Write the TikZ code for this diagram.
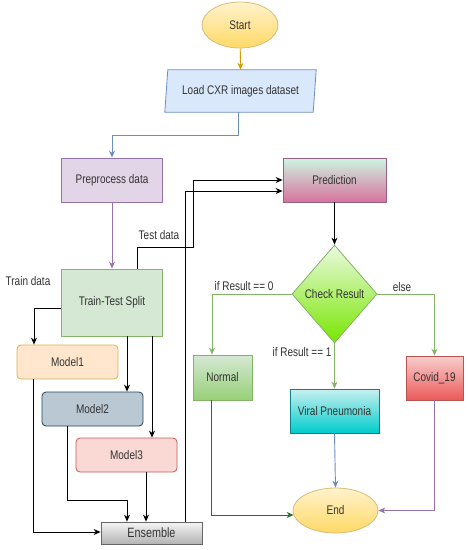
\documentclass[tikz,border=0pt]{standalone}
\usepackage{fontspec}
\setmainfont[FakeStretch=0.8]{Liberation Sans}
\usetikzlibrary{shapes.geometric,arrows.meta,shadings,calc}
\definecolor{txt}{HTML}{333333}
\begin{document}
\begin{tikzpicture}[x=1pt,y=-1pt,
  every node/.style={font=\fontsize{12.5}{14}\selectfont, text=txt, inner sep=1pt},
  box/.style={draw, rectangle, line width=0.8pt, minimum width=101pt},
  rbox/.style={box, rounded corners=4pt, minimum height=34pt},
  conn/.style={line width=0.9pt, -{Stealth[length=7pt,width=6pt]}},
  lbl/.style={inner sep=0pt}
]
\useasboundingbox (0,0) rectangle (467,550);
% nodes
\node[draw=yellow!50!orange!70!black!60, ellipse, line width=0.8pt, top color={rgb,255:red,255;green,242;blue,204}, bottom color={rgb,255:red,255;green,217;blue,102}, minimum width=76pt, minimum height=46pt] (start) at (240,25) {Start};

\node[minimum width=100pt, minimum height=42pt, inner sep=0pt] (load) at (240.5,91) {};
\filldraw[fill={rgb,255:red,218;green,232;blue,252}, draw={rgb,255:red,108;green,142;blue,191}, line width=0.8pt]
  ([xshift=-22.5pt]load.north west) -- ([xshift=25.5pt]load.north east) -- ([xshift=22.5pt]load.south east) -- ([xshift=-25.5pt]load.south west) -- cycle;
\node at (load) {Load CXR images dataset};

\node[box, minimum height=44pt, fill={rgb,255:red,225;green,213;blue,231}, draw={rgb,255:red,150;green,115;blue,166}] (pre) at (112,180) {Preprocess data};
\node[box, minimum height=67pt, fill={rgb,255:red,213;green,232;blue,212}, draw={rgb,255:red,130;green,179;blue,102}] (tts) at (112,302.5) {Train-Test Split};

\node[rbox, fill={rgb,255:red,255;green,230;blue,204}, draw={rgb,255:red,215;green,180;blue,80}] (m1) at (67.5,362) {Model1};
\node[rbox, fill={rgb,255:red,186;green,200;blue,211}, draw={rgb,255:red,35;green,68;blue,93}] (m2) at (92.5,409) {Model2};
\node[rbox, fill={rgb,255:red,250;green,217;blue,213}, draw={rgb,255:red,200;green,90;blue,80}] (m3) at (126.5,455) {Model3};
\node[box, minimum height=22pt, top color={rgb,255:red,245;green,245;blue,245}, bottom color={rgb,255:red,179;green,179;blue,179}, draw={rgb,255:red,102;green,102;blue,102}, font=\fontsize{13.5}{15}\selectfont] (ens) at (151.5,533) {Ensemble};

\node[box, minimum width=103pt, minimum height=44pt, top color={rgb,255:red,204;green,245;blue,225}, bottom color={rgb,255:red,215;green,115;blue,157}, draw={rgb,255:red,150;green,97;blue,133}] (pred) at (334.5,180) {Prediction};

\node[diamond, aspect=0.867, minimum width=85pt, minimum height=98pt, inner sep=0pt, line width=0.8pt, top color={rgb,255:red,235;green,250;blue,225}, bottom color={rgb,255:red,120;green,230;blue,0}, draw={rgb,255:red,130;green,179;blue,102}] (chk) at (334.5,294) {Check Result};

\node[box, minimum width=59pt, minimum height=45pt, top color={rgb,255:red,213;green,232;blue,212}, bottom color={rgb,255:red,151;green,208;blue,119}, draw={rgb,255:red,130;green,179;blue,102}] (normal) at (222.5,377.5) {Normal};
\node[box, minimum width=89pt, minimum height=44pt, top color={rgb,255:red,200;green,240;blue,240}, bottom color={rgb,255:red,0;green,204;blue,204}, draw={rgb,255:red,14;green,128;blue,136}] (viral) at (334.5,411) {Viral Pneumonia};
\node[box, minimum width=57pt, minimum height=44pt, top color={rgb,255:red,248;green,206;blue,204}, bottom color={rgb,255:red,234;green,90;blue,90}, draw={rgb,255:red,184;green,84;blue,80}] (covid) at (434.5,378) {Covid\_19};

\node[draw=yellow!50!orange!70!black!60, ellipse, line width=0.8pt, top color={rgb,255:red,255;green,242;blue,204}, bottom color={rgb,255:red,255;green,217;blue,102}, minimum width=85pt, minimum height=45pt] (end) at (335.5,510.5) {End};

% connectors
\draw[conn, draw={rgb,255:red,215;green,155;blue,0}, fill={rgb,255:red,215;green,155;blue,0}] (start) -- (load.north);
\draw[conn, draw={rgb,255:red,108;green,142;blue,191}] ([xshift=-2.5pt]load.south) -- ++(0,23) -| (pre.north);
\draw[conn, draw={rgb,255:red,150;green,115;blue,166}] (pre.south) -- (tts.north);

\draw[conn] ([xshift=25pt]tts.north) |- (193,247) |- (pred.west);
\draw[conn] ([yshift=-5.5pt]tts.west) -| ([xshift=-33.5pt]m1.north);
\coordinate (a2) at ([xshift=15pt]tts.south);
\coordinate (a3) at ([xshift=40pt]tts.south);
\draw[conn] (a2) -- (a2 |- m2.north);
\draw[conn] (a3) -- (a3 |- m3.north);

\coordinate (b1) at ([xshift=-34.5pt]m1.south);
\coordinate (b2) at ([xshift=-25.5pt]m2.south);
\coordinate (b3) at ([xshift=19.5pt]m3.south);
\coordinate (e2) at ([xshift=-24.5pt]ens.north);
\draw[conn] (b1) |- ([yshift=1pt]ens.west);
\draw[conn] (b2) |- ([yshift=21pt]e2) -- (e2);
\draw[conn] (b3) -- (b3 |- ens.north);
\draw[conn] ([xshift=33.5pt]ens.north) |- ([yshift=-11pt]pred.west);

\draw[conn] (pred.south) -- (chk.north);
\draw[conn, draw={rgb,255:red,130;green,179;blue,102}] (chk.west) -| ([xshift=-10.5pt]normal.north);
\draw[conn, draw={rgb,255:red,130;green,179;blue,102}] (chk.south) -- (viral.north);
\draw[conn, draw={rgb,255:red,130;green,179;blue,102}] (chk.east) -| (covid.north);

\draw[conn, draw={rgb,255:red,108;green,142;blue,191}] (viral.south) -- (end.north);
\draw[conn, draw={rgb,255:red,45;green,110;blue,30}] ([xshift=-11.5pt]normal.south) |- ([yshift=-4.5pt, xshift=1pt]end.west);
\draw[conn, draw={rgb,255:red,150;green,115;blue,166}] (covid.south) |- (end.east);

% labels
\node[lbl] (ltest) at (159,235) {Test data};
\node[lbl] (ltrain) at (28,281) {Train data};
\node[lbl] (l0) at (244,286) {if Result == 0};
\node[lbl] (l1) at (302,352) {if Result == 1};
\node[lbl] (lelse) at (402,287) {else};
\end{tikzpicture}
\end{document}
